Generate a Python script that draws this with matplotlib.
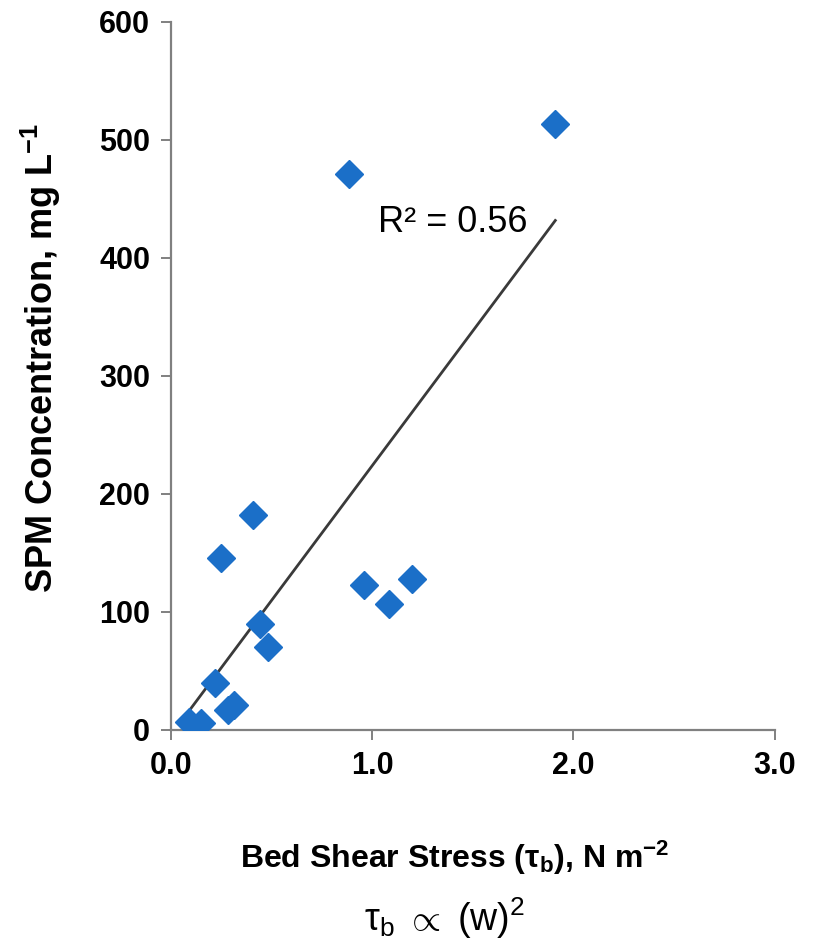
import numpy as np
import matplotlib.pyplot as plt

plt.rcParams['font.family'] = ['Liberation Sans', 'DejaVu Sans']
plt.rcParams['mathtext.fontset'] = 'custom'
plt.rcParams['mathtext.rm'] = 'Liberation Sans'
plt.rcParams['mathtext.it'] = 'Liberation Sans:italic'
plt.rcParams['mathtext.bf'] = 'Liberation Sans:bold'

# bed shear stress (N m-2) vs SPM concentration (mg/L)
shear = [1.91, 0.885, 0.41, 0.25, 0.96, 1.20, 1.085, 0.443, 0.48, 0.22, 0.315, 0.285, 0.09, 0.15]
spm = [513, 471, 182, 146, 123, 128, 107, 90, 70, 40, 21, 17, 7, 6]
r2_label = "R\u00b2 = 0.56"

x = np.array(shear)
y = np.array(spm)
slope, icpt = np.polyfit(x, y, 1)

fig = plt.figure(figsize=(8.18, 9.48), dpi=100)
ax = fig.add_axes([0.209, 0.23, 0.738, 0.747])

xs = np.array([x.min(), x.max()])
ax.plot(xs, slope * xs + icpt, color='#3a3a3a', lw=2, zorder=2)
ax.plot(x, y, ls='none', marker='D', ms=14, color='#1b6fc8', mec='#1b6fc8', zorder=3)

ax.set_xlim(0, 3)
ax.set_ylim(0, 600)
ax.set_xticks([0, 1, 2, 3])
ax.set_xticklabels(['0.0', '1.0', '2.0', '3.0'])
ax.set_yticks(range(0, 601, 100))

for s in ['top', 'right']:
    ax.spines[s].set_visible(False)
for s in ['left', 'bottom']:
    ax.spines[s].set_color('#808080')
    ax.spines[s].set_linewidth(1.6)
ax.tick_params(axis='both', direction='out', length=7, width=1.4, color='#808080',
               labelsize=22, pad=8)
for lbl in ax.get_xticklabels() + ax.get_yticklabels():
    lbl.set_fontweight('bold')

ax.set_ylabel('SPM Concentration, mg L$^{\\mathbf{-1}}$', fontsize=26, fontweight='bold',
              labelpad=26, y=0.525)
ax.set_xlabel('Bed Shear Stress (\u03c4$_{\\mathbf{b}}$), N m$^{\\mathbf{-2}}$', fontsize=23,
              fontweight='bold', labelpad=42, x=0.47)

ax.text(1.03, 430, r2_label, fontsize=26, color='black', va='center')

fig.text(0.543, 0.018, '\u03c4$_{\\rm b}$ $\\propto$ (w)$^{2}$', fontsize=27, ha='center')

fig.savefig('out.png', dpi=100, facecolor='white')
